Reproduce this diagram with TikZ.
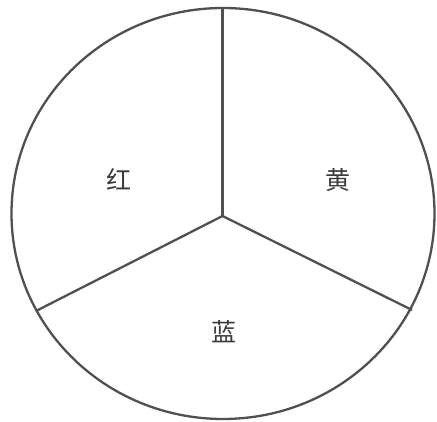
\documentclass[tikz,border=0pt]{standalone}
\usepackage{fontspec}
\newfontfamily\cjk{Noto Sans CJK SC}
\definecolor{lineaGris}{HTML}{505050}
\definecolor{textoGris}{HTML}{3A3A3A}
\begin{document}
\begin{tikzpicture}[x=1pt, y=-1pt,
      borde/.style={draw=lineaGris, line width=2.3pt},
      rayo/.style={draw=lineaGris, line width=2.3pt},
      etiqueta/.style={font=\cjk\fontsize{25}{25}\selectfont, text=textoGris}]
    \useasboundingbox (0,0) rectangle (437,422);
    \draw[borde] (223,213.5) ellipse [x radius=211.5, y radius=205.5];
    \coordinate (centro) at (222.5,216);
    \coordinate (arriba) at (222.5,8);
    \coordinate (izq)    at (36,311);
    \coordinate (der)    at (412,310);
    \draw[rayo] (centro) -- (arriba);
    \draw[rayo] (centro) -- (izq);
    \draw[rayo] (centro) -- (der);
    \node[etiqueta] (rojo)     at (119,179) {红};
    \node[etiqueta] (amarillo) at (338,180) {黄};
    \node[etiqueta] (azul)     at (224,332) {蓝};
  \end{tikzpicture}
\end{document}
